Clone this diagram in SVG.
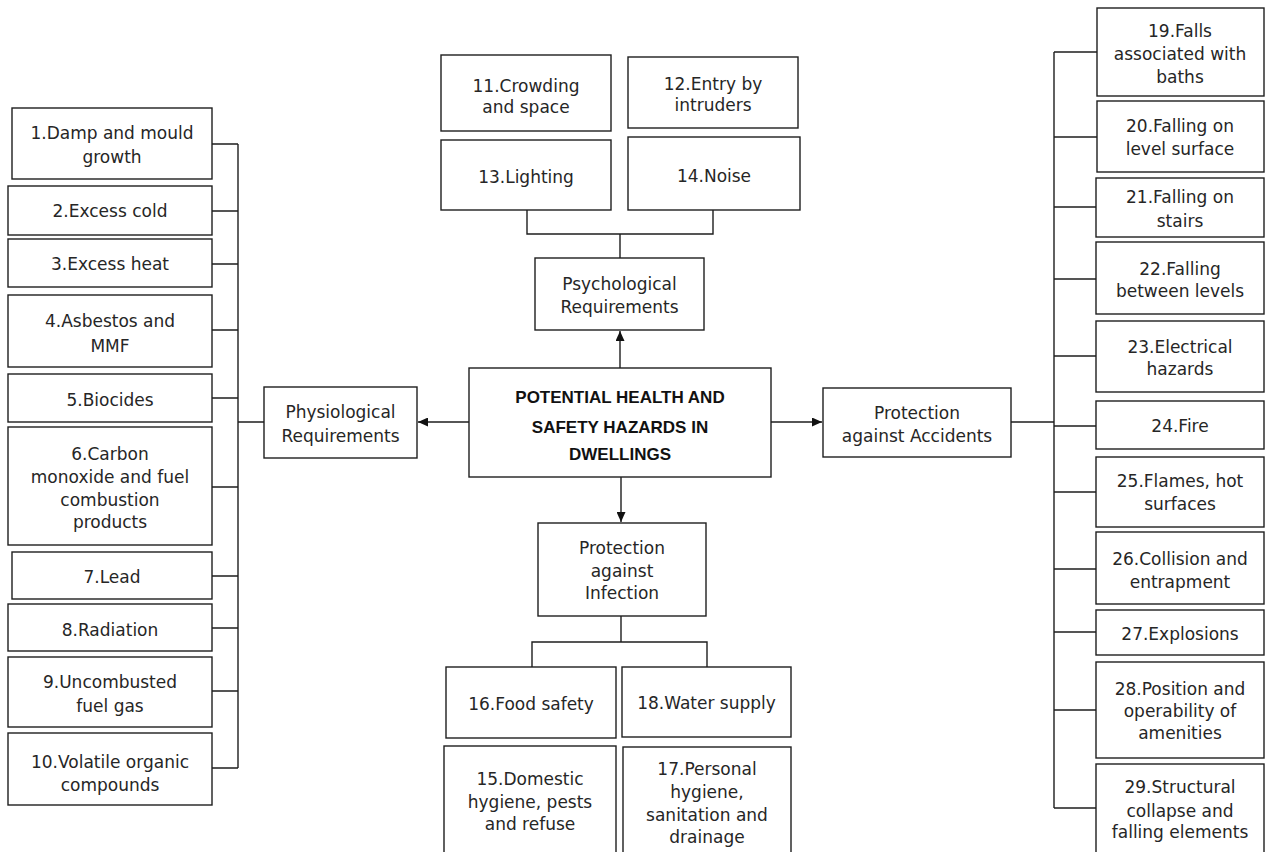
<svg xmlns="http://www.w3.org/2000/svg" width="1266" height="852" viewBox="0 0 1266 852">
  <style>
    .box { fill: #ffffff; stroke: #1e1e1e; stroke-width: 1.4; }
    .lbl { font-family: "DejaVu Sans", "Liberation Sans", sans-serif; font-size: 17px; fill: #262626; text-anchor: middle; }
    .title { font-family: "Liberation Sans", Arial, sans-serif; font-size: 17px; font-weight: bold; fill: #111111; text-anchor: middle; }
    .wire { fill: none; stroke: #1e1e1e; stroke-width: 1.4; }
  </style>
  <defs>
    <marker id="arrow" markerUnits="userSpaceOnUse" markerWidth="10" markerHeight="9" refX="10" refY="4.5" orient="auto">
      <path d="M0,0 L10,4.5 L0,9 z" fill="#111111"/>
    </marker>
  </defs>
  <rect width="1266" height="852" fill="#ffffff"/>

  <!-- connectors -->
  <g id="connectors">
    <!-- hub arrows -->
    <line class="wire" x1="469" y1="422" x2="418" y2="422" marker-end="url(#arrow)"/>
    <line class="wire" x1="771" y1="422" x2="822" y2="422" marker-end="url(#arrow)"/>
    <line class="wire" x1="620" y1="368" x2="620" y2="331" marker-end="url(#arrow)"/>
    <line class="wire" x1="621" y1="477" x2="621" y2="522" marker-end="url(#arrow)"/>
    <!-- physiological branch -->
    <path class="wire" d="M238 144 V768 M238 422 H264"/>
    <path class="wire" d="M212 144 H238 M212 211 H238 M212 264 H238 M212 330 H238 M212 398 H238 M212 487 H238 M212 576 H238 M212 628 H238 M212 691 H238 M212 768 H238"/>
    <!-- psychological branch -->
    <path class="wire" d="M527 210 V234 H713 V210 M620 234 V258"/>
    <!-- infection branch -->
    <path class="wire" d="M621 616 V642 M532 667 V642 H707 V667"/>
    <!-- accidents branch -->
    <path class="wire" d="M1011 422 H1054 M1054 52 V808"/>
    <path class="wire" d="M1054 52 H1097 M1054 137 H1097 M1054 207 H1096 M1054 279 H1096 M1054 356 H1096 M1054 426 H1096 M1054 492 H1096 M1054 569 H1096 M1054 632 H1096 M1054 710 H1096 M1054 808 H1096"/>
  </g>

  <!-- hub -->
  <g id="hub">
    <rect class="box" x="469" y="368" width="302" height="109"/>
    <text class="title" x="620" y="403">POTENTIAL HEALTH AND</text>
    <text class="title" x="620" y="433">SAFETY HAZARDS IN</text>
    <text class="title" x="620" y="460">DWELLINGS</text>
  </g>

  <!-- category nodes -->
  <g id="physiological">
    <rect class="box" x="264" y="387" width="153" height="71"/>
    <text class="lbl" x="340.5" y="418">Physiological</text>
    <text class="lbl" x="340.5" y="442">Requirements</text>
  </g>
  <g id="psychological">
    <rect class="box" x="535" y="258" width="169" height="72"/>
    <text class="lbl" x="619.5" y="290">Psychological</text>
    <text class="lbl" x="619.5" y="313">Requirements</text>
  </g>
  <g id="infection">
    <rect class="box" x="538" y="523" width="168" height="93"/>
    <text class="lbl" x="622" y="554">Protection</text>
    <text class="lbl" x="622" y="577">against</text>
    <text class="lbl" x="622" y="599">Infection</text>
  </g>
  <g id="accidents">
    <rect class="box" x="823" y="388" width="188" height="69"/>
    <text class="lbl" x="917" y="419">Protection</text>
    <text class="lbl" x="917" y="442">against Accidents</text>
  </g>

  <!-- physiological hazards -->
  <g id="h1"><rect class="box" x="12" y="108" width="200" height="71"/>
    <text class="lbl" x="112" y="139">1.Damp and mould</text>
    <text class="lbl" x="112" y="163">growth</text></g>
  <g id="h2"><rect class="box" x="8" y="186" width="204" height="49"/>
    <text class="lbl" x="110" y="217">2.Excess cold</text></g>
  <g id="h3"><rect class="box" x="8" y="239" width="204" height="48"/>
    <text class="lbl" x="110" y="270">3.Excess heat</text></g>
  <g id="h4"><rect class="box" x="8" y="295" width="204" height="72"/>
    <text class="lbl" x="110" y="327">4.Asbestos and</text>
    <text class="lbl" x="110" y="352">MMF</text></g>
  <g id="h5"><rect class="box" x="8" y="374" width="204" height="48"/>
    <text class="lbl" x="110" y="406">5.Biocides</text></g>
  <g id="h6"><rect class="box" x="8" y="427" width="204" height="118"/>
    <text class="lbl" x="110" y="460">6.Carbon</text>
    <text class="lbl" x="110" y="483">monoxide and fuel</text>
    <text class="lbl" x="110" y="506">combustion</text>
    <text class="lbl" x="110" y="528">products</text></g>
  <g id="h7"><rect class="box" x="12" y="552" width="200" height="47"/>
    <text class="lbl" x="112" y="583">7.Lead</text></g>
  <g id="h8"><rect class="box" x="8" y="604" width="204" height="47"/>
    <text class="lbl" x="110" y="636">8.Radiation</text></g>
  <g id="h9"><rect class="box" x="8" y="657" width="204" height="70"/>
    <text class="lbl" x="110" y="688">9.Uncombusted</text>
    <text class="lbl" x="110" y="712">fuel gas</text></g>
  <g id="h10"><rect class="box" x="8" y="733" width="204" height="72"/>
    <text class="lbl" x="110" y="768">10.Volatile organic</text>
    <text class="lbl" x="110" y="791">compounds</text></g>

  <!-- psychological hazards -->
  <g id="h11"><rect class="box" x="441" y="55" width="170" height="76"/>
    <text class="lbl" x="526" y="92">11.Crowding</text>
    <text class="lbl" x="526" y="113">and space</text></g>
  <g id="h12"><rect class="box" x="628" y="57" width="170" height="71"/>
    <text class="lbl" x="713" y="90">12.Entry by</text>
    <text class="lbl" x="713" y="111">intruders</text></g>
  <g id="h13"><rect class="box" x="441" y="140" width="170" height="70"/>
    <text class="lbl" x="526" y="183">13.Lighting</text></g>
  <g id="h14"><rect class="box" x="628" y="137" width="172" height="73"/>
    <text class="lbl" x="714" y="182">14.Noise</text></g>

  <!-- infection hazards -->
  <g id="h16"><rect class="box" x="446" y="667" width="170" height="71"/>
    <text class="lbl" x="531" y="710">16.Food safety</text></g>
  <g id="h18"><rect class="box" x="622" y="667" width="169" height="70"/>
    <text class="lbl" x="706.5" y="709">18.Water supply</text></g>
  <g id="h15"><rect class="box" x="444" y="746" width="172" height="112"/>
    <text class="lbl" x="530" y="785">15.Domestic</text>
    <text class="lbl" x="530" y="808">hygiene, pests</text>
    <text class="lbl" x="530" y="830">and refuse</text></g>
  <g id="h17"><rect class="box" x="623" y="747" width="168" height="111"/>
    <text class="lbl" x="707" y="775">17.Personal</text>
    <text class="lbl" x="707" y="798">hygiene,</text>
    <text class="lbl" x="707" y="821">sanitation and</text>
    <text class="lbl" x="707" y="843">drainage</text></g>

  <!-- accident hazards -->
  <g id="h19"><rect class="box" x="1097" y="8" width="167" height="88"/>
    <text class="lbl" x="1180" y="37">19.Falls</text>
    <text class="lbl" x="1180" y="60">associated with</text>
    <text class="lbl" x="1180" y="83">baths</text></g>
  <g id="h20"><rect class="box" x="1097" y="101" width="167" height="71"/>
    <text class="lbl" x="1180" y="132">20.Falling on</text>
    <text class="lbl" x="1180" y="155">level surface</text></g>
  <g id="h21"><rect class="box" x="1096" y="178" width="168" height="59"/>
    <text class="lbl" x="1180" y="203">21.Falling on</text>
    <text class="lbl" x="1180" y="227">stairs</text></g>
  <g id="h22"><rect class="box" x="1096" y="242" width="168" height="72"/>
    <text class="lbl" x="1180" y="275">22.Falling</text>
    <text class="lbl" x="1180" y="297">between levels</text></g>
  <g id="h23"><rect class="box" x="1096" y="321" width="168" height="71"/>
    <text class="lbl" x="1180" y="353">23.Electrical</text>
    <text class="lbl" x="1180" y="375">hazards</text></g>
  <g id="h24"><rect class="box" x="1096" y="401" width="168" height="48"/>
    <text class="lbl" x="1180" y="432">24.Fire</text></g>
  <g id="h25"><rect class="box" x="1096" y="457" width="168" height="70"/>
    <text class="lbl" x="1180" y="487">25.Flames, hot</text>
    <text class="lbl" x="1180" y="510">surfaces</text></g>
  <g id="h26"><rect class="box" x="1096" y="532" width="168" height="72"/>
    <text class="lbl" x="1180" y="565">26.Collision and</text>
    <text class="lbl" x="1180" y="588">entrapment</text></g>
  <g id="h27"><rect class="box" x="1096" y="610" width="168" height="45"/>
    <text class="lbl" x="1180" y="640">27.Explosions</text></g>
  <g id="h28"><rect class="box" x="1096" y="662" width="168" height="96"/>
    <text class="lbl" x="1180" y="695">28.Position and</text>
    <text class="lbl" x="1180" y="717">operability of</text>
    <text class="lbl" x="1180" y="739">amenities</text></g>
  <g id="h29"><rect class="box" x="1096" y="764" width="168" height="95"/>
    <text class="lbl" x="1180" y="793">29.Structural</text>
    <text class="lbl" x="1180" y="817">collapse and</text>
    <text class="lbl" x="1180" y="838">falling elements</text></g>
</svg>
